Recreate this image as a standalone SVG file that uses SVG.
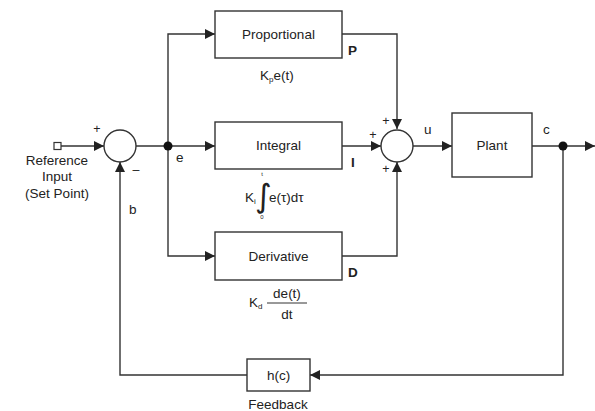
<svg xmlns="http://www.w3.org/2000/svg" width="595" height="411" viewBox="0 0 595 411">
  <style>
    .blk { fill: #ffffff; stroke: #333333; stroke-width: 1.4; }
    .wire { fill: none; stroke: #333333; stroke-width: 1.4; }
    .lbl { font-family: "Liberation Sans", Arial, sans-serif; font-size: 13.5px; fill: #222222; }
    .mid { text-anchor: middle; }
    .sign { font-family: "Liberation Sans", Arial, sans-serif; font-size: 12.5px; fill: #222222; text-anchor: middle; }
    .tiny { font-family: "Liberation Sans", Arial, sans-serif; font-size: 6px; fill: #222222; text-anchor: middle; }
    .bold { font-weight: bold; }
    .sub { font-size: 8px; }
  </style>
  <defs>
    <marker id="arr" markerUnits="userSpaceOnUse" markerWidth="11" markerHeight="10" refX="10" refY="5" orient="auto">
      <path d="M0,0 L10,5 L0,10 Z" fill="#222222"/>
    </marker>
  </defs>
  <rect width="595" height="411" fill="#ffffff"/>

  <!-- connectors -->
  <g id="connectors">
    <path class="wire" d="M60,146 L104,146" marker-end="url(#arr)"/>
    <path class="wire" d="M136,146 L215,146" marker-end="url(#arr)"/>
    <path class="wire" d="M168,146 L168,34 L215,34" marker-end="url(#arr)"/>
    <path class="wire" d="M168,146 L168,256 L215,256" marker-end="url(#arr)"/>
    <path class="wire" d="M342,34 L397,34 L397,129" marker-end="url(#arr)"/>
    <path class="wire" d="M342,146 L381,146" marker-end="url(#arr)"/>
    <path class="wire" d="M342,256 L397,256 L397,162" marker-end="url(#arr)"/>
    <path class="wire" d="M413,146 L452,146" marker-end="url(#arr)"/>
    <path class="wire" d="M532,146 L595,146" marker-end="url(#arr)"/>
    <path class="wire" d="M563,146 L563,375 L310,375" marker-end="url(#arr)"/>
    <path class="wire" d="M247,375 L120,375 L120,162" marker-end="url(#arr)"/>
    <circle cx="168" cy="146" r="4.5" fill="#111111"/>
    <circle cx="563" cy="146" r="4.5" fill="#111111"/>
  </g>

  <!-- set point input -->
  <g id="input">
    <rect x="54" y="142.5" width="7" height="7" fill="#ffffff" stroke="#333333" stroke-width="1.2"/>
    <text class="lbl mid" x="57" y="165">Reference</text>
    <text class="lbl mid" x="57" y="181">Input</text>
    <text class="lbl mid" x="57" y="198">(Set Point)</text>
  </g>

  <!-- error summing junction -->
  <g id="sum1">
    <circle class="blk" cx="120" cy="146" r="16"/>
    <text class="sign" x="97" y="133">+</text>
    <text class="sign" x="136" y="174">–</text>
  </g>

  <text class="lbl" x="176" y="162">e</text>
  <text class="lbl" x="129" y="214">b</text>

  <!-- proportional branch -->
  <g id="proportional">
    <rect class="blk" x="215" y="11" width="127" height="47"/>
    <text class="lbl mid" x="278.5" y="39">Proportional</text>
    <text class="lbl bold" x="348" y="55">P</text>
    <text class="lbl" x="260" y="80">K<tspan class="sub" dy="2">p</tspan><tspan dy="-2">e(t)</tspan></text>
  </g>

  <!-- integral branch -->
  <g id="integral">
    <rect class="blk" x="215" y="122" width="127" height="47"/>
    <text class="lbl mid" x="278.5" y="150">Integral</text>
    <text class="lbl bold" x="351" y="167">I</text>
    <text class="lbl" x="245" y="202">K<tspan class="sub" dy="2">i</tspan></text>
    <text font-family="'DejaVu Sans', sans-serif" font-size="32" fill="#222222" x="255" y="207">∫</text>
    <text class="tiny" x="262" y="176">t</text>
    <text class="tiny" x="262" y="219">0</text>
    <text class="lbl" x="269" y="202">e(τ)dτ</text>
  </g>

  <!-- derivative branch -->
  <g id="derivative">
    <rect class="blk" x="215" y="232" width="127" height="48"/>
    <text class="lbl mid" x="278.5" y="261">Derivative</text>
    <text class="lbl bold" x="348" y="277">D</text>
    <text class="lbl" x="249" y="307">K<tspan class="sub" dy="2">d</tspan></text>
    <text class="lbl mid" x="287" y="298">de(t)</text>
    <line x1="267" y1="303" x2="307" y2="303" stroke="#333333" stroke-width="1"/>
    <text class="lbl mid" x="287" y="319">dt</text>
  </g>

  <!-- PID summing junction -->
  <g id="sum2">
    <circle class="blk" cx="397" cy="146" r="16"/>
    <text class="sign" x="373" y="139">+</text>
    <text class="sign" x="386" y="125">+</text>
    <text class="sign" x="386" y="173">+</text>
  </g>

  <text class="lbl" x="424" y="134">u</text>

  <!-- plant -->
  <g id="plant">
    <rect class="blk" x="452" y="113" width="80" height="64"/>
    <text class="lbl mid" x="492" y="150">Plant</text>
  </g>

  <text class="lbl" x="543" y="134">c</text>

  <!-- feedback element -->
  <g id="feedback">
    <rect class="blk" x="247" y="359" width="63" height="32"/>
    <text class="lbl mid" x="278.5" y="380">h(c)</text>
    <text class="lbl mid" x="278" y="409">Feedback</text>
  </g>
</svg>
